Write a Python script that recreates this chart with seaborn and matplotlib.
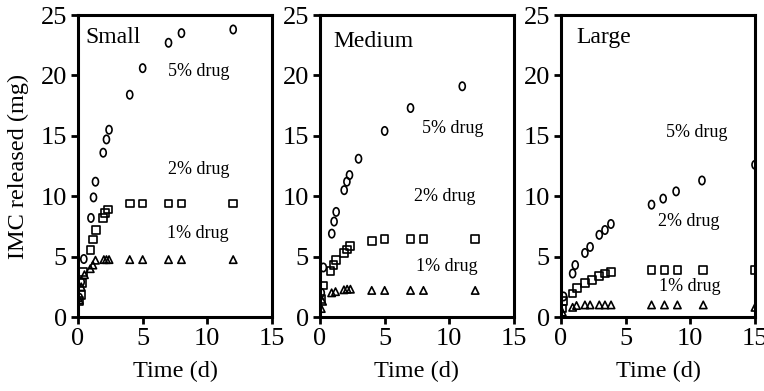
import numpy as np
import pandas as pd
import matplotlib
matplotlib.use("Agg")
import matplotlib.pyplot as plt
from matplotlib.path import Path
from matplotlib.transforms import Affine2D
import seaborn as sns

# ---- cumulative IMC release (mg) vs time (d) ----
# Small particles
small_t5 = [0.1, 0.25, 0.45, 1.0, 1.2, 1.35, 1.95, 2.2, 2.4, 4, 5, 7, 8, 12]
small_v5 = [1.6, 2.9, 4.8, 8.2, 9.9, 11.2, 13.6, 14.7, 15.5, 18.4, 20.6, 22.7, 23.5, 23.8]
small_t2 = [0.1, 0.25, 0.3, 0.4, 0.97, 1.18, 1.38, 1.95, 2.08, 2.33, 4, 5, 7, 8, 12]
small_v2 = [1.3, 1.8, 2.8, 3.75, 5.55, 6.4, 7.2, 8.2, 8.6, 8.9, 9.4, 9.4, 9.4, 9.4, 9.4]
small_t1 = [0.1, 0.25, 0.5, 0.95, 1.15, 1.35, 2.0, 2.2, 2.4, 4, 5, 7, 8, 12]
small_v1 = [1.4, 2.5, 3.5, 4.0, 4.3, 4.7, 4.75, 4.75, 4.75, 4.75, 4.75, 4.75, 4.75, 4.75]

# Medium particles
medium_t5 = [0.1, 0.26, 0.91, 1.09, 1.25, 1.87, 2.08, 2.28, 2.98, 5, 7, 11]
medium_v5 = [2.0, 4.1, 6.9, 7.9, 8.7, 10.5, 11.2, 11.75, 13.1, 15.4, 17.3, 19.1]
medium_t2 = [0.1, 0.26, 0.8, 1.04, 1.25, 1.85, 2.08, 2.33, 4, 5, 7, 8, 12]
medium_v2 = [1.5, 2.6, 3.8, 4.3, 4.7, 5.3, 5.6, 5.9, 6.3, 6.45, 6.45, 6.45, 6.45]
medium_t1 = [0.1, 0.2, 0.9, 1.2, 1.85, 2.1, 2.35, 4, 5, 7, 8, 12]
medium_v1 = [0.7, 1.3, 2.0, 2.1, 2.25, 2.3, 2.3, 2.2, 2.2, 2.2, 2.2, 2.2]

# Large particles
large_t5 = [0.2, 0.9, 1.1, 1.85, 2.25, 2.96, 3.4, 3.86, 7, 7.9, 8.9, 10.9, 15]
large_v5 = [1.7, 3.6, 4.3, 5.3, 5.8, 6.8, 7.2, 7.7, 9.3, 9.8, 10.4, 11.3, 12.6]
large_t2 = [0.1, 0.2, 0.9, 1.23, 1.85, 2.38, 2.96, 3.4, 3.87, 7, 8, 9, 11, 15]
large_v2 = [0.7, 1.3, 1.96, 2.4, 2.8, 3.06, 3.4, 3.6, 3.75, 3.9, 3.9, 3.9, 3.9, 3.9]
large_t1 = [0.1, 0.9, 1.2, 1.85, 2.25, 2.96, 3.4, 3.87, 7, 8, 9, 11, 15]
large_v1 = [0.4, 0.8, 0.95, 1.0, 1.0, 1.0, 1.0, 1.0, 1.0, 1.0, 1.0, 1.0, 0.8]

panel_names = ["Small", "Medium", "Large"]
series_labels = ["5% drug", "2% drug", "1% drug"]
x_ticks = [0, 5, 10, 15]
y_ticks = [0, 5, 10, 15, 20, 25]

panels = [
    [(small_t5, small_v5), (small_t2, small_v2), (small_t1, small_v1)],
    [(medium_t5, medium_v5), (medium_t2, medium_v2), (medium_t1, medium_v1)],
    [(large_t5, large_v5), (large_t2, large_v2), (large_t1, large_v1)],
]

# series label positions (data coords) and panel title positions (axes coords)
label_pos = [
    [(9.3, 20.3), (9.3, 12.2), (9.3, 6.95)],
    [(10.3, 15.6), (9.65, 9.96), (9.8, 4.16)],
    [(10.5, 15.3), (9.85, 7.9), (9.93, 2.5)],
]
title_pos = [(0.036, 0.927), (0.067, 0.912), (0.077, 0.924)]

sns.set_theme(style="ticks")
plt.rcParams["font.family"] = ["Liberation Serif", "DejaVu Serif"]
plt.rcParams["text.color"] = "black"
plt.rcParams["axes.labelcolor"] = "black"
plt.rcParams["xtick.color"] = "black"
plt.rcParams["ytick.color"] = "black"

# open oval marker (taller than wide)
oval = Path.unit_circle().transformed(Affine2D().scale(0.72, 1.0))
markers = [oval, "s", "^"]
sizes = [36, 30, 28]

fig = plt.figure(figsize=(7.64, 3.91), dpi=100)
W, H = 764, 391
lefts = [78, 320, 561]
pw = 194
bottom_px, top_px = 317, 15

for i, (name, series) in enumerate(zip(panel_names, panels)):
    ax = fig.add_axes([lefts[i] / W, 1 - bottom_px / H, pw / W, (bottom_px - top_px) / H])
    for j, (t, v) in enumerate(series):
        df = pd.DataFrame({"t": t, "v": v})
        sns.scatterplot(data=df, x="t", y="v", ax=ax, marker=markers[j], s=sizes[j],
                        facecolor="none", edgecolor="black", linewidth=1.2, legend=False)
        lx, ly = label_pos[i][j]
        ax.text(lx, ly, series_labels[j], ha="center", va="center", fontsize=13)
    ax.text(title_pos[i][0], title_pos[i][1], name, transform=ax.transAxes,
            ha="left", va="center", fontsize=17)
    ax.set_xlim(0, 15)
    ax.set_ylim(0, 25)
    ax.set_xticks(x_ticks)
    ax.set_yticks(y_ticks)
    ax.tick_params(axis="both", direction="out", length=5, width=2,
                   labelsize=19, pad=3, top=False, right=False)
    for sp in ax.spines.values():
        sp.set_linewidth(2.2)
        sp.set_color("black")
        sp.set_visible(True)
    ax.set_xlabel("Time (d)", fontsize=17.5, labelpad=8)
    if i == 0:
        ax.set_ylabel("IMC released (mg)", fontsize=17.5, labelpad=8)
    else:
        ax.set_ylabel("")

fig.savefig("out.png", dpi=100)
